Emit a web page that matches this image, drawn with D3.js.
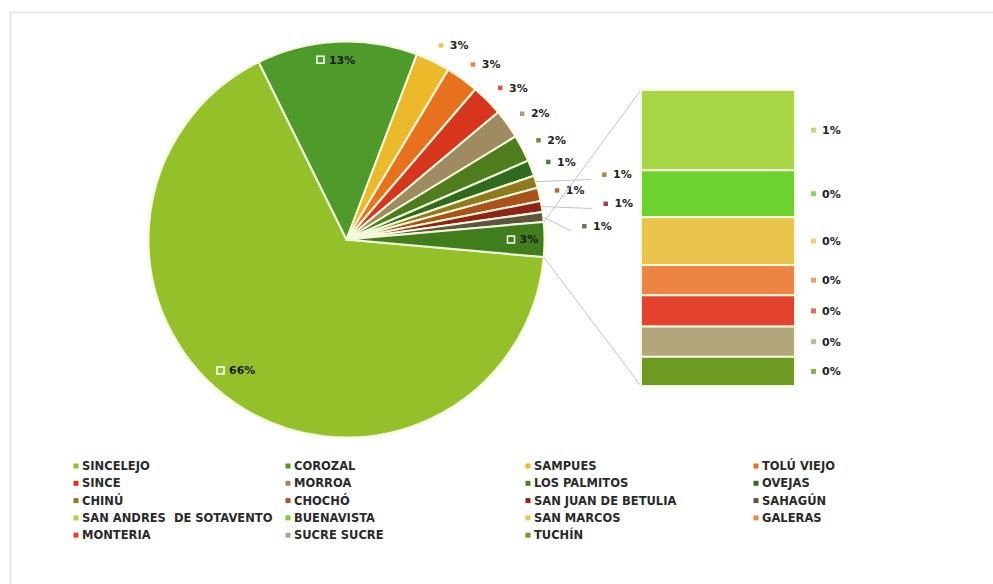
<!DOCTYPE html>
<html>
<head>
<meta charset="utf-8">
<script src="https://cdn.jsdelivr.net/npm/d3@7"></script>
<style>
  body { margin: 0; background: #fff; }
  svg { display: block; }
  text { font-family: "DejaVu Sans", Verdana, sans-serif; font-weight: bold; white-space: pre; }
</style>
</head>
<body>
<svg id="chart" width="993" height="584"></svg>
<script>
// Municipalities shown as slices of the main pie (share of total, %)
const pieNames = ["SINCELEJO", "COROZAL", "SAMPUES", "TOLÚ VIEJO", "SINCE", "MORROA",
  "LOS PALMITOS", "OVEJAS", "CHINÚ", "CHOCHÓ", "SAN JUAN DE BETULIA", "SAHAGÚN"];
const pieValues = [66.27, 13.1, 2.8, 2.7, 2.6, 2.4, 2.2, 1.3, 1.0, 1.1, 0.9, 0.8];
const pieColors = ["#94c12a", "#4e9b2c", "#ebb92a", "#e8711e", "#d6351e", "#9e8b62",
  "#4f7c1c", "#2f6b1f", "#8f7a20", "#a9521a", "#8e2418", "#5c5640"];

// Smaller municipalities grouped into the "other" slice and broken out in the bar
const barNames = ["SAN ANDRES  DE SOTAVENTO", "BUENAVISTA", "SAN MARCOS", "GALERAS",
  "MONTERIA", "SUCRE SUCRE", "TUCHÍN"];
const barValues = [0.767, 0.448, 0.458, 0.289, 0.299, 0.289, 0.279];
const barColors = ["#a9d646", "#6dd12f", "#ebc44e", "#ee8444", "#e4422f", "#b3a57c", "#6d9a22"];
const otherColor = "#3f7d1d";

const svg = d3.select("#chart");
const W = 993, H = 584;

// chart frame
svg.append("rect").attr("x", 10.5).attr("y", 12.5).attr("width", W + 20).attr("height", H + 20)
  .attr("fill", "#fff").attr("stroke", "#e0e0e0").attr("stroke-width", 1.5);

const otherTotal = d3.sum(barValues);
const total = d3.sum(pieValues) + otherTotal;
const pct = d3.format(".0%");

const pieData = pieNames.map((n, i) => ({ name: n, value: pieValues[i], color: pieColors[i] }))
  .concat([{ name: "OTHER", value: otherTotal, color: otherColor, other: true }]);

// the grouped slice is centred on the right-hand side, facing the bar
const otherFrac = otherTotal / total;
const start = Math.PI / 2 + otherFrac * Math.PI;
const pie = d3.pie().sort(null).value(d => d.value).startAngle(start).endAngle(start + 2 * Math.PI);
const arcs = pie(pieData);

const cx = 346.5, cy = 239.5, R = 198;
const arc = d3.arc().innerRadius(0).outerRadius(R);
const g = svg.append("g").attr("transform", `translate(${cx},${cy})`);

g.selectAll("path.slice").data(arcs).join("path")
  .attr("class", "slice")
  .attr("d", arc)
  .attr("fill", d => d.data.color)
  .attr("stroke", "#f4fadc").attr("stroke-width", 2).attr("stroke-linejoin", "round");

const polar = (a, r) => [Math.sin(a) * r, -Math.cos(a) * r];
const mid = d => (d.startAngle + d.endAngle) / 2;

// bar of the grouped slice
const barX = 641, barW = 154, barTop = 90, barBottom = 386;
const y = d3.scaleLinear().domain([0, otherTotal]).range([barTop, barBottom]);
const stack = [];
let acc = 0;
barValues.forEach((v, i) => { stack.push({ name: barNames[i], value: v, color: barColors[i], y0: acc, y1: acc + v }); acc += v; });

// connector lines from the grouped slice to the bar
const otherArc = arcs[arcs.length - 1];
const pTop = polar(otherArc.startAngle, R), pBot = polar(otherArc.endAngle, R);
svg.append("line").attr("x1", cx + pTop[0]).attr("y1", cy + pTop[1]).attr("x2", barX).attr("y2", y(0))
  .attr("stroke", "#c3c3c3").attr("stroke-width", 1);
svg.append("line").attr("x1", cx + pBot[0]).attr("y1", cy + pBot[1]).attr("x2", barX).attr("y2", y(otherTotal))
  .attr("stroke", "#c3c3c3").attr("stroke-width", 1);

svg.selectAll("rect.seg").data(stack).join("rect")
  .attr("class", "seg")
  .attr("x", barX).attr("width", barW)
  .attr("y", d => y(d.y0)).attr("height", d => y(d.y1) - y(d.y0))
  .attr("fill", d => d.color)
  .attr("stroke", "#f4fadc").attr("stroke-width", 2);

// bar labels
const barLab = svg.append("g");
stack.forEach(d => {
  const yy = (y(d.y0) + y(d.y1)) / 2;
  barLab.append("rect").attr("x", barX + barW + 16).attr("y", yy - 2.5).attr("width", 5).attr("height", 5)
    .attr("fill", d.color).attr("opacity", 0.8);
  barLab.append("text").attr("x", barX + barW + 27).attr("y", yy).attr("dy", "0.36em")
    .attr("font-size", 11).attr("fill", "#222").text(pct(d.value / total));
});

// pie labels: large slices inside, small slices just outside the rim
const insideR = 178, outsideR = 216;
const nudge = {
  "SINCELEJO": [-12, -16],
  "COROZAL": [-4, -2],
  "CHINÚ": [51, -2],
  "SAN JUAN DE BETULIA": [46, 0],
  "SAHAGÚN": [23, 11]
};
const leadered = ["CHINÚ", "SAN JUAN DE BETULIA", "SAHAGÚN"];
const labG = g.append("g");
arcs.forEach(d => {
  const inside = d.data.name === "SINCELEJO" || d.data.name === "COROZAL" || d.data.other;
  const a = mid(d);
  const txt = pct(d.value / total);
  const n = nudge[d.data.name] || [0, 0];
  if (inside) {
    const p = polar(a, insideR);
    const px = p[0] + n[0], py = p[1] + n[1];
    labG.append("rect").attr("x", px - 17).attr("y", py - 3.5).attr("width", 7).attr("height", 7)
      .attr("fill", d.data.color).attr("stroke", "#fff").attr("stroke-width", 1.5);
    labG.append("text").attr("x", px - 5).attr("y", py).attr("dy", "0.36em")
      .attr("font-size", 11).attr("fill", "#1a1a1a").text(txt);
  } else {
    const p = polar(a, outsideR);
    const px = p[0] + n[0], py = p[1] + n[1];
    if (leadered.includes(d.data.name)) {
      const e = polar(a, R);
      labG.append("line").attr("x1", e[0]).attr("y1", e[1]).attr("x2", px - 13).attr("y2", py + 5)
        .attr("stroke", "#c3c3c3").attr("stroke-width", 1);
    }
    labG.append("rect").attr("x", px - 2).attr("y", py - 2).attr("width", 4.5).attr("height", 4.5)
      .attr("fill", d.data.color).attr("opacity", 0.85);
    labG.append("text").attr("x", px + 9).attr("y", py).attr("dy", "0.36em")
      .attr("font-size", 11).attr("fill", "#222").text(txt);
  }
});

// legend, four columns, row by row
const legendNames = pieNames.concat(barNames);
const legendColors = pieColors.concat(barColors);
const colX = [76, 288, 528, 756];
const rowY0 = 466, rowStep = 17.3;
const leg = svg.append("g");
legendNames.forEach((name, i) => {
  const lx = colX[i % 4], ly = rowY0 + Math.floor(i / 4) * rowStep;
  leg.append("rect").attr("x", lx - 2.5).attr("y", ly - 2.5).attr("width", 5).attr("height", 5)
    .attr("fill", legendColors[i]);
  leg.append("text").attr("x", lx + 6).attr("y", ly).attr("dy", "0.36em")
    .attr("font-size", 11.5).attr("fill", "#2a2a2a").text(name);
});
</script>
</body>
</html>
